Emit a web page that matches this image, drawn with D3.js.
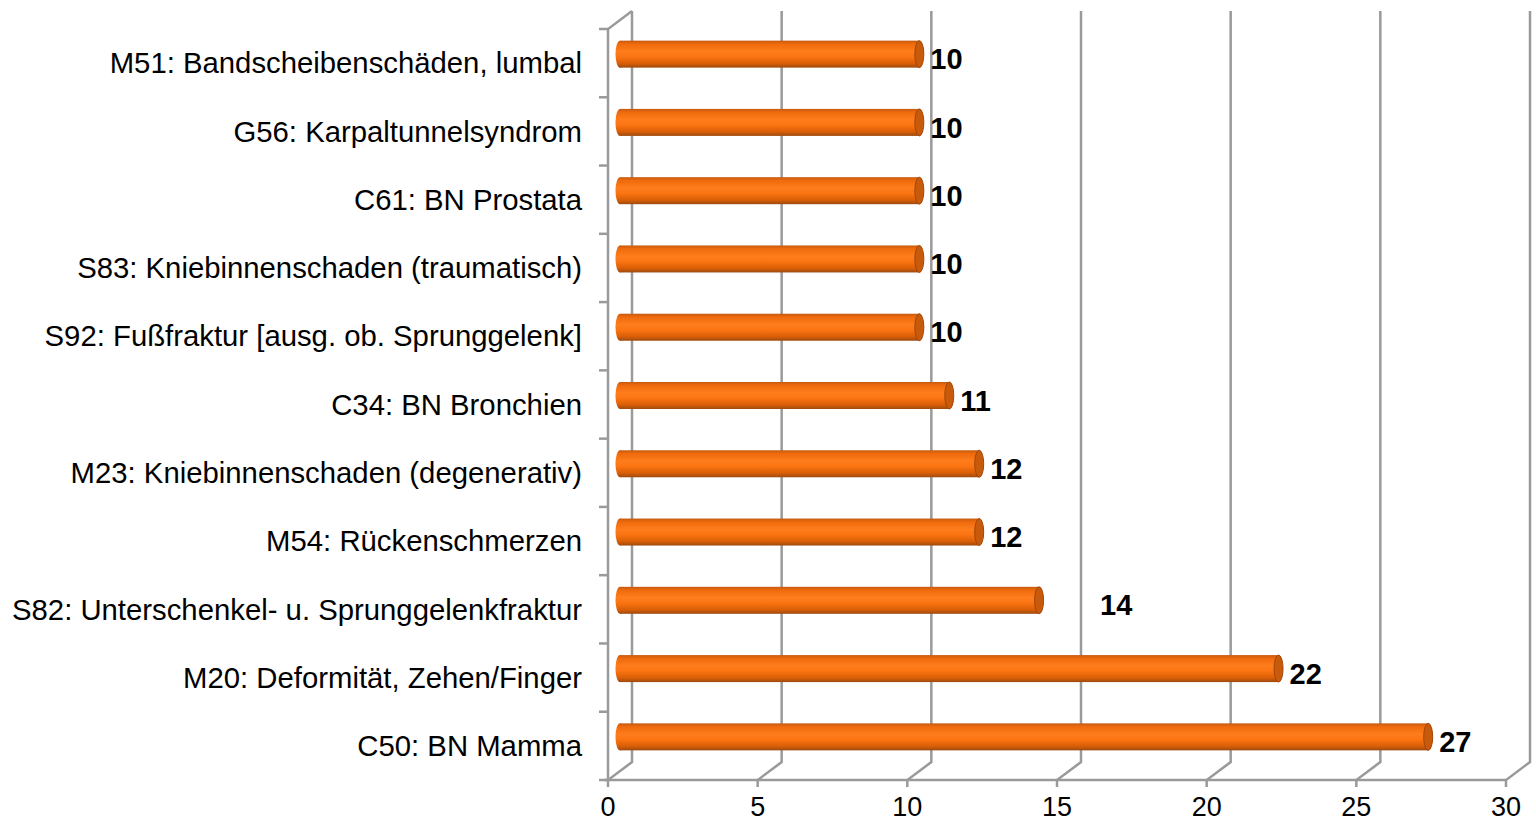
<!DOCTYPE html>
<html>
<head>
<meta charset="utf-8">
<script src="https://cdn.jsdelivr.net/npm/d3@7"></script>
<style>
  body { margin: 0; background: #fff; }
  svg { display: block; font-family: "Liberation Sans", Arial, sans-serif; }
</style>
</head>
<body>
<div id="chart"></div>
<script>
// categories, top to bottom as shown
const categories = [
  "M51: Bandscheibenschäden, lumbal",
  "G56: Karpaltunnelsyndrom",
  "C61: BN Prostata",
  "S83: Kniebinnenschaden (traumatisch)",
  "S92: Fußfraktur [ausg. ob. Sprunggelenk]",
  "C34: BN Bronchien",
  "M23: Kniebinnenschaden (degenerativ)",
  "M54: Rückenschmerzen",
  "S82: Unterschenkel- u. Sprunggelenkfraktur",
  "M20: Deformität, Zehen/Finger",
  "C50: BN Mamma"
];
const values = [10, 10, 10, 10, 10, 11, 12, 12, 14, 22, 27];
const xTicks = [0, 5, 10, 15, 20, 25, 30];

const width = 1536, height = 822;
// 3D depth offset of the back wall
const depth = { dx: 24, dy: -18 };
const gridColor = "#9a9a9a";

const x = d3.scaleLinear().domain([0, 30]).range([608, 1506]);
const y = d3.scaleBand().domain(categories).range([29, 780]);

const svg = d3.select("#chart").append("svg")
  .attr("width", width)
  .attr("height", height);

// gradient for the cylinders
const defs = svg.append("defs");
const grad = defs.append("linearGradient")
  .attr("id", "cyl")
  .attr("x1", 0).attr("y1", 0).attr("x2", 0).attr("y2", 1);
[
  [0, "#c45a10"], [0.12, "#ee6a0c"], [0.4, "#ff7d1c"],
  [0.6, "#fb7412"], [0.85, "#d85e06"], [1, "#9c4a10"]
].forEach(([o, c]) => grad.append("stop").attr("offset", o).attr("stop-color", c));

const grid = svg.append("g")
  .attr("stroke", gridColor)
  .attr("stroke-width", 2.5)
  .attr("fill", "none");

const yTop = y.range()[0], yBot = y.range()[1];

// back wall gridlines + floor diagonals
xTicks.forEach((t) => {
  const fx = x(t);
  grid.append("path")
    .attr("d", `M${fx},${yBot + 7}L${fx},${yBot}L${fx + depth.dx},${yBot + depth.dy}L${fx + depth.dx},${yTop + depth.dy}`);
});

// front floor edge
grid.append("line")
  .attr("x1", x(0) - 4).attr("x2", x(30))
  .attr("y1", yBot).attr("y2", yBot);

// left wall front edge + top diagonal
grid.append("path")
  .attr("d", `M${x(0)},${yBot}L${x(0)},${yTop}L${x(0) + depth.dx},${yTop + depth.dy}`);

// category ticks on the left wall
const bounds = categories.map((c) => y(c)).concat([yBot]);
grid.selectAll("line.ytick")
  .data(bounds)
  .enter()
  .append("line")
  .attr("class", "ytick")
  .attr("x1", x(0) - 9).attr("x2", x(0))
  .attr("y1", (d) => d).attr("y2", (d) => d);

// category labels
svg.append("g")
  .selectAll("text")
  .data(categories)
  .enter()
  .append("text")
  .attr("x", 582)
  .attr("y", (d) => y(d) + y.bandwidth() / 2)
  .attr("dy", "0.35em")
  .attr("text-anchor", "end")
  .style("font-size", "29.3px")
  .attr("fill", "#000")
  .text((d) => d);

// x tick labels
svg.append("g")
  .selectAll("text")
  .data(xTicks)
  .enter()
  .append("text")
  .attr("x", (d) => x(d))
  .attr("y", 816)
  .attr("text-anchor", "middle")
  .style("font-size", "27px")
  .text((d) => d);

// bars (cylinders) sit at half depth
const half = { dx: depth.dx / 2, dy: depth.dy / 2 };
const barH = 27, capR = 4.5;
const bars = svg.append("g")
  .selectAll("g.bar")
  .data(categories.map((c, i) => ({ name: c, value: values[i] })))
  .enter()
  .append("g")
  .attr("class", "bar")
  .attr("transform", (d) => `translate(0,${y(d.name) + y.bandwidth() / 2 + half.dy})`);

bars.append("ellipse")
  .attr("cx", x(0) + half.dx)
  .attr("cy", 0)
  .attr("rx", capR).attr("ry", barH / 2)
  .attr("fill", "url(#cyl)");

bars.append("rect")
  .attr("x", x(0) + half.dx)
  .attr("y", -barH / 2)
  .attr("width", (d) => x(d.value) - x(0))
  .attr("height", barH)
  .attr("fill", "url(#cyl)");

bars.append("ellipse")
  .attr("cx", (d) => x(d.value) + half.dx)
  .attr("cy", 0)
  .attr("rx", capR).attr("ry", barH / 2)
  .attr("fill", "#c85a0c")
  .attr("stroke", "#a34608")
  .attr("stroke-width", 1);

// value labels; the 14 label sits further out in the original
const labelShift = { "S82: Unterschenkel- u. Sprunggelenkfraktur": 50 };
bars.append("text")
  .attr("x", (d) => x(d.value) + half.dx + 11 + (labelShift[d.name] || 0))
  .attr("y", 5)
  .attr("dy", "0.35em")
  .style("font-size", "29px")
  .style("font-weight", "bold")
  .text((d) => d.value);
</script>
</body>
</html>
